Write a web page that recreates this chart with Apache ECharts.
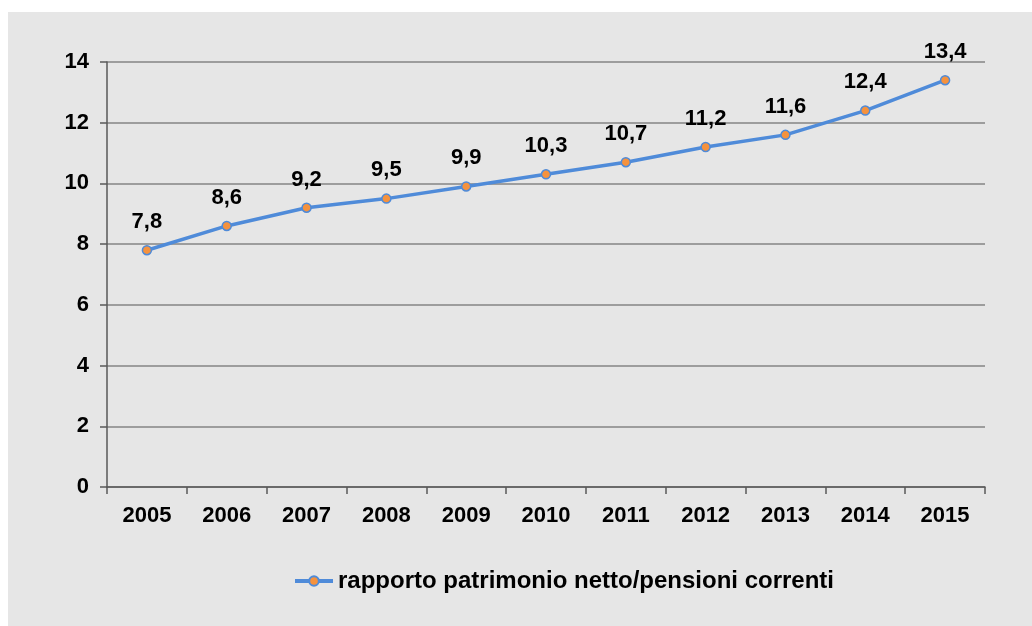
<!DOCTYPE html>
<html>
<head>
<meta charset="utf-8">
<script src="https://cdn.jsdelivr.net/npm/echarts@6/dist/echarts.min.js"></script>
<style>
  html, body { margin: 0; padding: 0; background: #fff; }
  #chart { position: absolute; left: 8px; top: 12px; width: 1024px; height: 614px; background: #e6e6e6; }
</style>
</head>
<body>
<div id="chart"></div>
<script>
// dati
const anni = ['2005', '2006', '2007', '2008', '2009', '2010', '2011', '2012', '2013', '2014', '2015'];
const rapporto = [7.8, 8.6, 9.2, 9.5, 9.9, 10.3, 10.7, 11.2, 11.6, 12.4, 13.4];
const nomeSerie = 'rapporto patrimonio netto/pensioni correnti';

const chart = echarts.init(document.getElementById('chart'));

const fontBold = {
  fontFamily: 'Liberation Sans, Arial, sans-serif',
  fontWeight: 'bold',
  fontSize: 22,
  color: '#000'
};

chart.setOption({
  animation: false,
  grid: { left: 99, right: 47, top: 50, bottom: 139 },
  legend: {
    data: [{ name: nomeSerie }],
    top: 552,
    left: 280,
    itemWidth: 38,
    itemHeight: 12,
    itemGap: 6,
    lineStyle: { width: 4 },
    textStyle: Object.assign({}, fontBold, { fontSize: 24 })
  },
  xAxis: {
    type: 'category',
    data: anni,
    boundaryGap: true,
    axisLine: { lineStyle: { color: '#595959', width: 1.5 } },
    axisTick: { show: true, length: 7, lineStyle: { color: '#595959', width: 1.5 } },
    axisLabel: Object.assign({ margin: 18 }, fontBold)
  },
  yAxis: {
    type: 'value',
    min: 0,
    max: 14,
    interval: 2,
    axisLine: { show: true, lineStyle: { color: '#595959', width: 1.5 } },
    axisTick: { show: true, length: 7, lineStyle: { color: '#595959', width: 1.5 } },
    axisLabel: Object.assign({ margin: 18 }, fontBold),
    splitLine: { lineStyle: { color: '#858585', width: 1.5 } }
  },
  series: [{
    name: nomeSerie,
    type: 'line',
    data: rapporto,
    symbol: 'circle',
    symbolSize: 9,
    lineStyle: { color: '#4f8bd9', width: 3.5 },
    itemStyle: { color: '#f5923e', borderColor: '#4f8bd9', borderWidth: 1.5 },
    label: {
      show: true,
      position: 'top',
      distance: 12,
      fontFamily: 'Liberation Sans, Arial, sans-serif',
      fontWeight: 'bold',
      fontSize: 22,
      color: '#000',
      formatter: p => String(p.value).replace('.', ',')
    }
  }]
});
</script>
</body>
</html>
